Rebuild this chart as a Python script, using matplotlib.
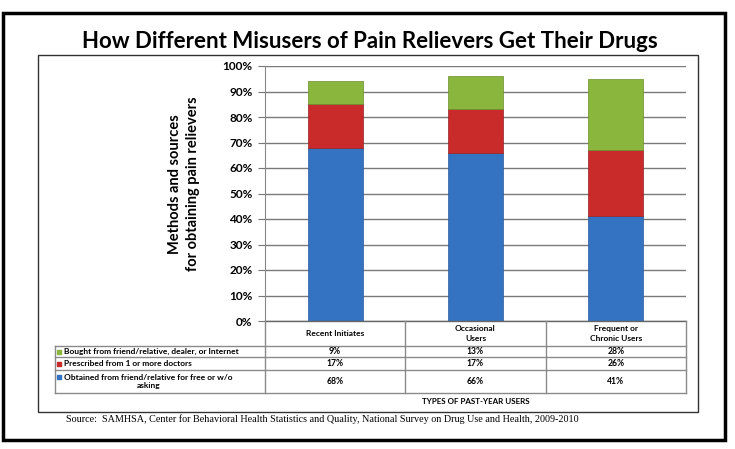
import numpy as np
import matplotlib.pyplot as plt
from matplotlib.patches import Rectangle

# Chart data
categories = ["Recent Initiates", "Occasional\nUsers", "Frequent or\nChronic Users"]
obtained_free = [68, 66, 41]
prescribed = [17, 17, 26]
bought = [9, 13, 28]
series_names = [
    "Bought from friend/relative, dealer, or Internet",
    "Prescribed from 1 or more doctors",
    "Obtained from friend/relative for free or w/o\nasking",
]
yticks = [0, 10, 20, 30, 40, 50, 60, 70, 80, 90, 100]

# Styling
blue = "#3472C2"
red = "#C92B2B"
green = "#8AB63D"
font = "Lato"
W, H = 735, 449

plt.rcParams["font.family"] = [font, "DejaVu Sans"]
fig = plt.figure(figsize=(W / 100, H / 100), dpi=100)


def fx(px):
    return px / W


def fy(py):
    return 1 - py / H


# Outer frame and inner chart box
fig.patches.append(Rectangle((fx(3), fy(440)), fx(722), (437 - 10) / H, fill=False,
                             edgecolor="black", linewidth=2.5, transform=fig.transFigure))
fig.patches.append(Rectangle((fx(38), fy(412)), fx(660), (412 - 55) / H, fill=False,
                             edgecolor="#333333", linewidth=1.0, transform=fig.transFigure))

# Title
fig.text(fx(370), fy(42), "How Different Misusers of Pain Relievers Get Their Drugs",
         ha="center", va="center", fontsize=16, fontweight="bold", family=font)

# Main axes
ax = fig.add_axes([fx(265), fy(321), (686 - 265) / W, (321 - 66) / H])
x = np.arange(len(categories))
bw = 0.39
ax.bar(x, obtained_free, bw, color=blue, edgecolor="#2a5a9a", linewidth=0.5, zorder=3)
ax.bar(x, prescribed, bw, bottom=obtained_free, color=red, edgecolor="#9a2020",
       linewidth=0.5, zorder=3)
ax.bar(x, bought, bw, bottom=np.add(obtained_free, prescribed), color=green,
       edgecolor="#6a8f2a", linewidth=0.5, zorder=3)

ax.set_xlim(-0.5, 2.5)
ax.set_ylim(0, 100)
ax.set_yticks(yticks)
ax.set_yticklabels([f"{t}%" for t in yticks], fontsize=8.5, fontweight="bold")
ax.tick_params(axis="y", length=5, color="#777777", pad=4)
ax.set_xticks([])
ax.yaxis.grid(True, color="#7a7a7a", linewidth=1.0, zorder=0)
for s in ["top", "right", "bottom"]:
    ax.spines[s].set_visible(False)
ax.spines["left"].set_color("#888888")

fig.text(fx(184), fy(184), "Methods and sources\nfor obtaining pain relievers",
         rotation=90, ha="center", va="center", multialignment="center",
         fontsize=10.5, fontweight="bold", linespacing=1.3)

# Data table below the chart
tab = fig.add_axes([fx(265), fy(393), (686 - 265) / W, (393 - 321) / H])
tab.set_xlim(-0.5, 2.5)
tab.set_ylim(72, 0)
tab.axis("off")
lc = "#8a8a8a"
row_edges = [24.5, 36, 49, 72]
# horizontal lines
tab.plot([-0.5, 2.5], [0, 0], color="#666666", lw=1, clip_on=False)
for r in row_edges:
    tab.plot([-2.0, 2.5], [r, r], color=lc, lw=1, clip_on=False)
# vertical lines
for c in [-0.5, 0.5, 1.5, 2.5]:
    tab.plot([c, c], [0, 72], color=lc, lw=1, clip_on=False)
tab.plot([-2.0, -2.0], [24.5, 72], color=lc, lw=1, clip_on=False)

for i, cat in enumerate(categories):
    tab.text(i, 12.5, cat, ha="center", va="center", fontsize=6,
             fontweight="bold", linespacing=1.5)

rows = [bought, prescribed, obtained_free]
colors = [green, red, blue]
row_mid = [30.5, 42.5, 60.5]
for name, vals, col, ym in zip(series_names, rows, colors, row_mid):
    tab.scatter([-1.97], [ym - (5 if "\n" in name else 0)], marker="s", s=9,
                color=col, clip_on=False)
    tab.text(-1.93, ym, name, ha="left", va="center", fontsize=6,
             fontweight="bold", multialignment="center", linespacing=1.3)
    for i, v in enumerate(vals):
        tab.text(i, ym, f"{v}%", ha="center", va="center", fontsize=6.2,
                 fontweight="bold")

fig.text(fx(476), fy(401), "TYPES OF PAST-YEAR USERS", ha="center", va="center",
         fontsize=5.8, fontweight="bold")

fig.text(fx(66), fy(419),
         "Source:  SAMHSA, Center for Behavioral Health Statistics and Quality, "
         "National Survey on Drug Use and Health, 2009-2010",
         ha="left", va="center", fontsize=7.3, family="Liberation Serif")

fig.savefig("out.png", dpi=100)
